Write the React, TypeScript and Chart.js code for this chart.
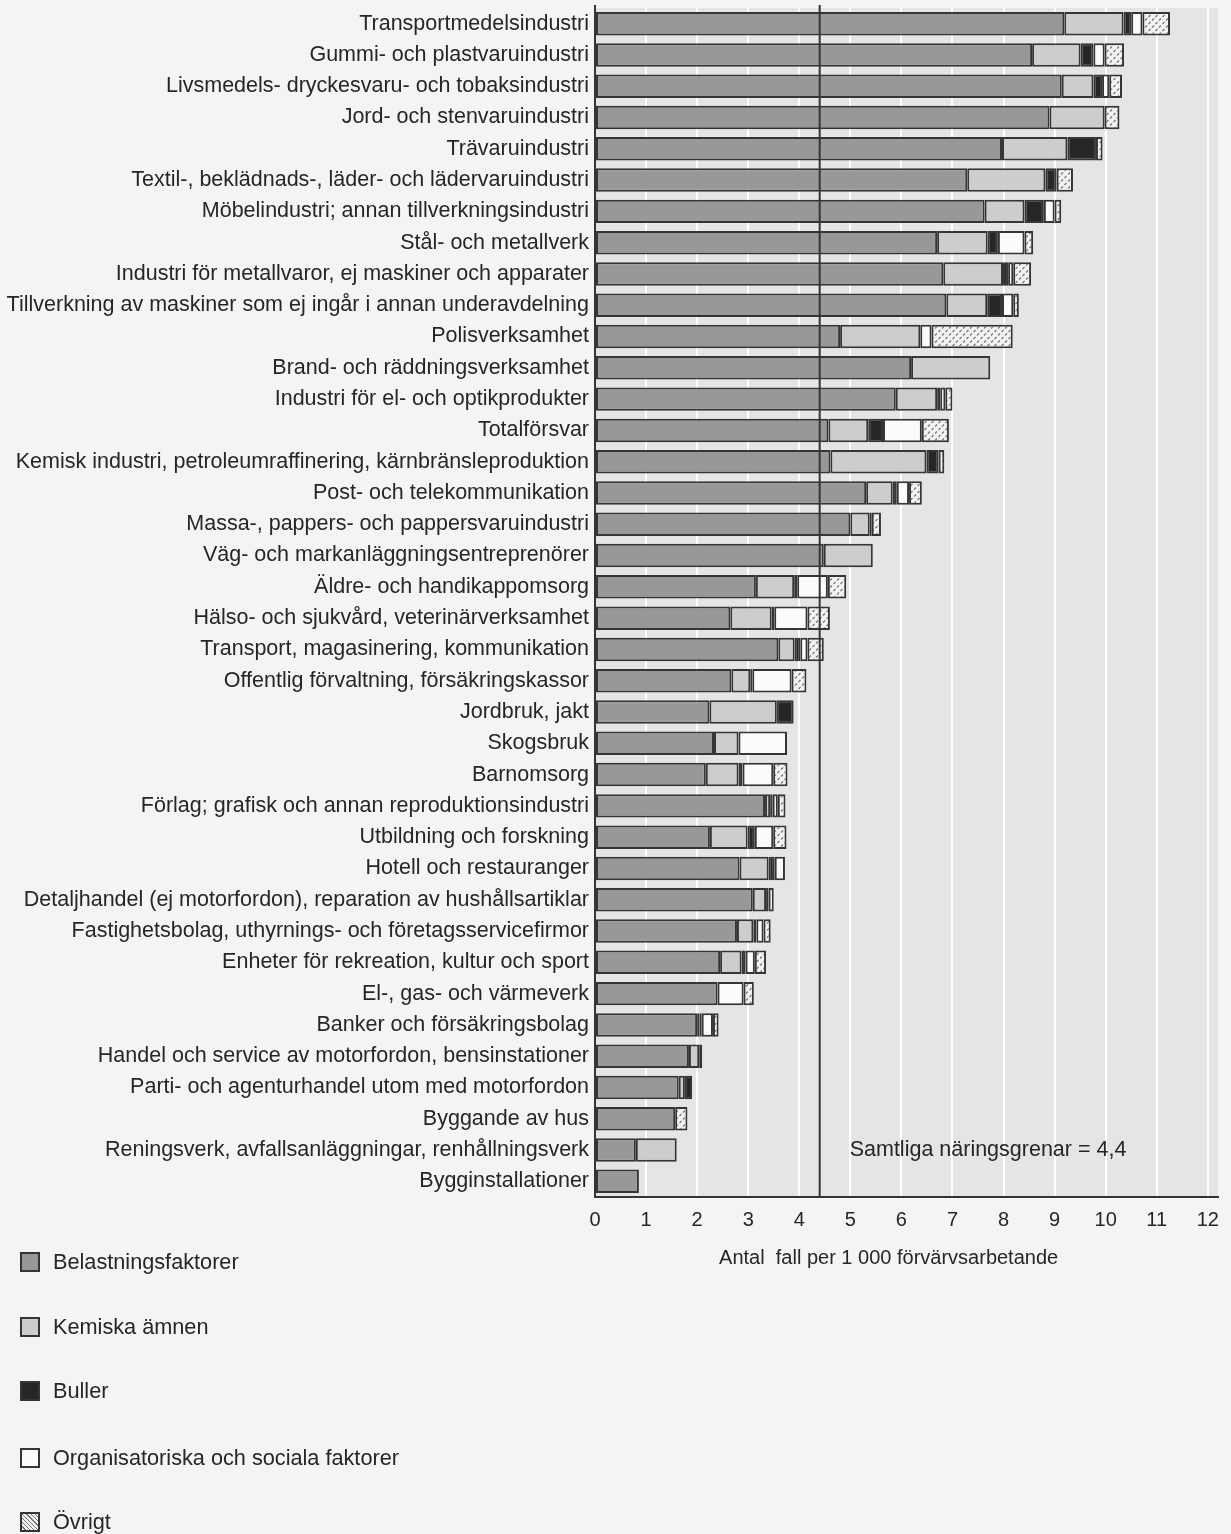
import React, { useEffect, useRef } from 'react';
import { Chart, registerables } from 'chart.js';

Chart.register(...registerables);

const categories: string[] = [
  'Transportmedelsindustri',
  'Gummi- och plastvaruindustri',
  'Livsmedels- dryckesvaru- och tobaksindustri',
  'Jord- och stenvaruindustri',
  'Trävaruindustri',
  'Textil-, beklädnads-, läder- och lädervaruindustri',
  'Möbelindustri; annan tillverkningsindustri',
  'Stål- och metallverk',
  'Industri för metallvaror, ej maskiner och apparater',
  'Tillverkning av maskiner som ej ingår i annan underavdelning',
  'Polisverksamhet',
  'Brand- och räddningsverksamhet',
  'Industri för el- och optikprodukter',
  'Totalförsvar',
  'Kemisk industri, petroleumraffinering, kärnbränsleproduktion',
  'Post- och telekommunikation',
  'Massa-, pappers- och pappersvaruindustri',
  'Väg- och markanläggningsentreprenörer',
  'Äldre- och handikappomsorg',
  'Hälso- och sjukvård, veterinärverksamhet',
  'Transport, magasinering, kommunikation',
  'Offentlig förvaltning, försäkringskassor',
  'Jordbruk, jakt',
  'Skogsbruk',
  'Barnomsorg',
  'Förlag; grafisk och annan reproduktionsindustri',
  'Utbildning och forskning',
  'Hotell och restauranger',
  'Detaljhandel (ej motorfordon), reparation av hushållsartiklar',
  'Fastighetsbolag, uthyrnings- och företagsservicefirmor',
  'Enheter för rekreation, kultur och sport',
  'El-, gas- och värmeverk',
  'Banker och försäkringsbolag',
  'Handel och service av motorfordon, bensinstationer',
  'Parti- och agenturhandel utom med motorfordon',
  'Byggande av hus',
  'Reningsverk, avfallsanläggningar, renhållningsverk',
  'Bygginstallationer',
];

const belastningsfaktorer: number[] = [
  9.19, 8.56, 9.14, 8.9, 7.97, 7.29, 7.63, 6.7, 6.82, 6.88,
  4.8, 6.19, 5.89, 4.57, 4.61, 5.31, 5.0, 4.48, 3.15, 2.65,
  3.59, 2.67, 2.24, 2.33, 2.17, 3.33, 2.25, 2.83, 3.09, 2.78,
  2.45, 2.4, 2.0, 1.84, 1.64, 1.57, 0.8, 0.86,
];
const kemiskaAmnen: number[] = [
  1.16, 0.95, 0.62, 1.08, 1.28, 1.53, 0.78, 0.99, 1.17, 0.8,
  1.57, 1.55, 0.81, 0.78, 1.88, 0.52, 0.38, 0.96, 0.75, 0.81,
  0.32, 0.37, 1.32, 0.48, 0.64, 0.1, 0.74, 0.57, 0.26, 0.32,
  0.42, 0, 0.05, 0.2, 0.12, 0, 0.8, 0,
];
const buller: number[] = [
  0.15, 0.25, 0.17, 0, 0.56, 0.22, 0.38, 0.2, 0.1, 0.29,
  0, 0, 0.06, 0.29, 0.24, 0.08, 0.04, 0, 0.06, 0.05,
  0.11, 0.04, 0.33, 0, 0.08, 0.05, 0.14, 0.12, 0.05, 0.06,
  0.08, 0, 0.04, 0.06, 0.14, 0, 0, 0,
];
const organisatoriska: number[] = [
  0.22, 0.22, 0.14, 0, 0, 0, 0.21, 0.52, 0.1, 0.22,
  0.22, 0, 0.1, 0.76, 0, 0.24, 0, 0, 0.6, 0.65,
  0.14, 0.77, 0, 0.95, 0.6, 0.1, 0.36, 0.2, 0.1, 0.14,
  0.18, 0.51, 0.22, 0, 0, 0, 0, 0,
];
const ovrigt: number[] = [
  0.54, 0.38, 0.25, 0.29, 0.13, 0.32, 0.13, 0.17, 0.35, 0.11,
  1.59, 0, 0.14, 0.53, 0.11, 0.25, 0.18, 0, 0.36, 0.44,
  0.32, 0.29, 0, 0, 0.28, 0.15, 0.26, 0, 0, 0.14,
  0.22, 0.2, 0.11, 0, 0, 0.24, 0, 0,
];

const seriesNames: string[] = [
  'Belastningsfaktorer',
  'Kemiska ämnen',
  'Buller',
  'Organisatoriska och sociala faktorer',
  'Övrigt',
];

const xMin = 0;
const xMax = 12.2;
const averageValue = 4.4;
const averageLabel = 'Samtliga näringsgrenar = 4,4';
const axisTitle = 'Antal  fall per 1 000 förvärvsarbetande';

const FONT = '"Liberation Sans", Arial, Helvetica, sans-serif';
const TEXT = '#262626';
const EDGE = '#353535';
const FILLS = ['#989898', '#cdcdcd', '#262626', '#fbfbfb'];

function makeHatch(): CanvasPattern | string {
  const c = document.createElement('canvas');
  c.width = 7;
  c.height = 7;
  const g = c.getContext('2d');
  if (!g) return '#e0e0e0';
  g.fillStyle = '#f2f2f2';
  g.fillRect(0, 0, 7, 7);
  g.strokeStyle = '#777777';
  g.lineWidth = 1.2;
  g.beginPath();
  g.moveTo(0.5, 3);
  g.lineTo(2.5, 1);
  g.moveTo(4, 6.5);
  g.lineTo(6, 4.5);
  g.stroke();
  const p = g.createPattern(c, 'repeat');
  return p || '#e0e0e0';
}

const nz = (arr: number[]) => arr.map((v) => (v > 0 ? v : null));

export default function App() {
  const ref = useRef<HTMLCanvasElement | null>(null);

  useEffect(() => {
    if (!ref.current) return;
    const hatch = makeHatch();
    const fills: (string | CanvasPattern)[] = [...FILLS, hatch];
    const series = [belastningsfaktorer, kemiskaAmnen, buller, organisatoriska, ovrigt];

    const decor = {
      id: 'decor',
      beforeDraw(chart: any) {
        const { ctx, chartArea: a } = chart;
        ctx.save();
        ctx.fillStyle = '#e5e5e4';
        ctx.fillRect(a.left, a.top, a.right - a.left, a.bottom - a.top);
        ctx.restore();
      },
      afterDatasetsDraw(chart: any) {
        const { ctx, chartArea: a } = chart;
        const xs = chart.scales.x;
        const ys = chart.scales.y;
        const x = xs.getPixelForValue(averageValue);
        ctx.save();
        ctx.strokeStyle = EDGE;
        ctx.lineWidth = 2;
        ctx.beginPath();
        ctx.moveTo(x, a.top - 3);
        ctx.lineTo(x, a.bottom);
        ctx.stroke();
        ctx.beginPath();
        ctx.moveTo(a.left, a.top - 3);
        ctx.lineTo(a.left, a.bottom);
        ctx.stroke();
        ctx.fillStyle = TEXT;
        ctx.font = `21.5px ${FONT}`;
        ctx.textAlign = 'left';
        ctx.textBaseline = 'middle';
        ctx.fillText(averageLabel, x + 30, ys.getPixelForValue(categories.length - 2));
        ctx.font = `20px ${FONT}`;
        ctx.textAlign = 'center';
        ctx.fillText(axisTitle, xs.getPixelForValue(5.75), a.bottom + 61);
        ctx.restore();
      },
    };

    const chart = new Chart(ref.current, {
      type: 'bar',
      data: {
        labels: categories,
        datasets: series.map((s, i) => ({
          label: seriesNames[i],
          data: nz(s),
          backgroundColor: fills[i] as any,
          borderColor: EDGE,
          borderWidth: 2,
          borderSkipped: false,
          barPercentage: 0.75,
          categoryPercentage: 1,
        })),
      },
      options: {
        indexAxis: 'y',
        responsive: false,
        animation: false,
        events: [],
        layout: { padding: { top: 8, right: 13, left: 0, bottom: 0 } },
        plugins: { legend: { display: false }, tooltip: { enabled: false } },
        scales: {
          x: {
            type: 'linear',
            stacked: true,
            min: xMin,
            max: xMax,
            afterFit: (s: any) => {
              s.height = 1534 - 1197;
              s.paddingLeft = 0;
              s.paddingRight = 0;
            },
            ticks: {
              stepSize: 1,
              includeBounds: false,
              color: TEXT,
              padding: 11,
              font: { family: FONT, size: 20 },
            },
            grid: { color: '#ffffff', lineWidth: 2, drawTicks: false },
            border: { display: true, color: EDGE, width: 2 },
          },
          y: {
            type: 'category',
            stacked: true,
            afterFit: (s: any) => {
              s.width = 595;
              s.paddingTop = 0;
              s.paddingBottom = 0;
            },
            ticks: {
              color: TEXT,
              padding: 6,
              autoSkip: false,
              font: { family: FONT, size: 21.5 },
            },
            grid: { display: false, drawTicks: false },
            border: { display: true, color: EDGE, width: 2 },
          },
        },
      } as any,
      plugins: [decor],
    });
    return () => chart.destroy();
  }, []);

  const legendY = [1262, 1327, 1391, 1458, 1522];
  const swatch = (i: number): React.CSSProperties => {
    const base: React.CSSProperties = {
      position: 'absolute',
      left: 20,
      width: 20,
      height: 20,
      border: `2px solid ${EDGE}`,
      boxSizing: 'border-box',
    };
    if (i < 4) return { ...base, background: FILLS[i] };
    return {
      ...base,
      background: 'repeating-linear-gradient(45deg, #f2f2f2 0px, #f2f2f2 2px, #777777 2px, #777777 3px)',
    };
  };

  return (
    <div
      style={{
        position: 'absolute',
        left: 0,
        top: 0,
        width: 1231,
        height: 1534,
        background: '#f4f4f2',
        overflow: 'hidden',
      }}
    >
      <canvas ref={ref} width={1231} height={1534} style={{ display: 'block' }} />
      {seriesNames.map((name, i) => (
        <React.Fragment key={name}>
          <div style={{ ...swatch(i), top: legendY[i] - 10 }} />
          <div
            style={{
              position: 'absolute',
              left: 53,
              top: legendY[i] - 13,
              font: `21.7px ${FONT}`,
              color: TEXT,
              lineHeight: '26px',
              whiteSpace: 'nowrap',
            }}
          >
            {name}
          </div>
        </React.Fragment>
      ))}
    </div>
  );
}
